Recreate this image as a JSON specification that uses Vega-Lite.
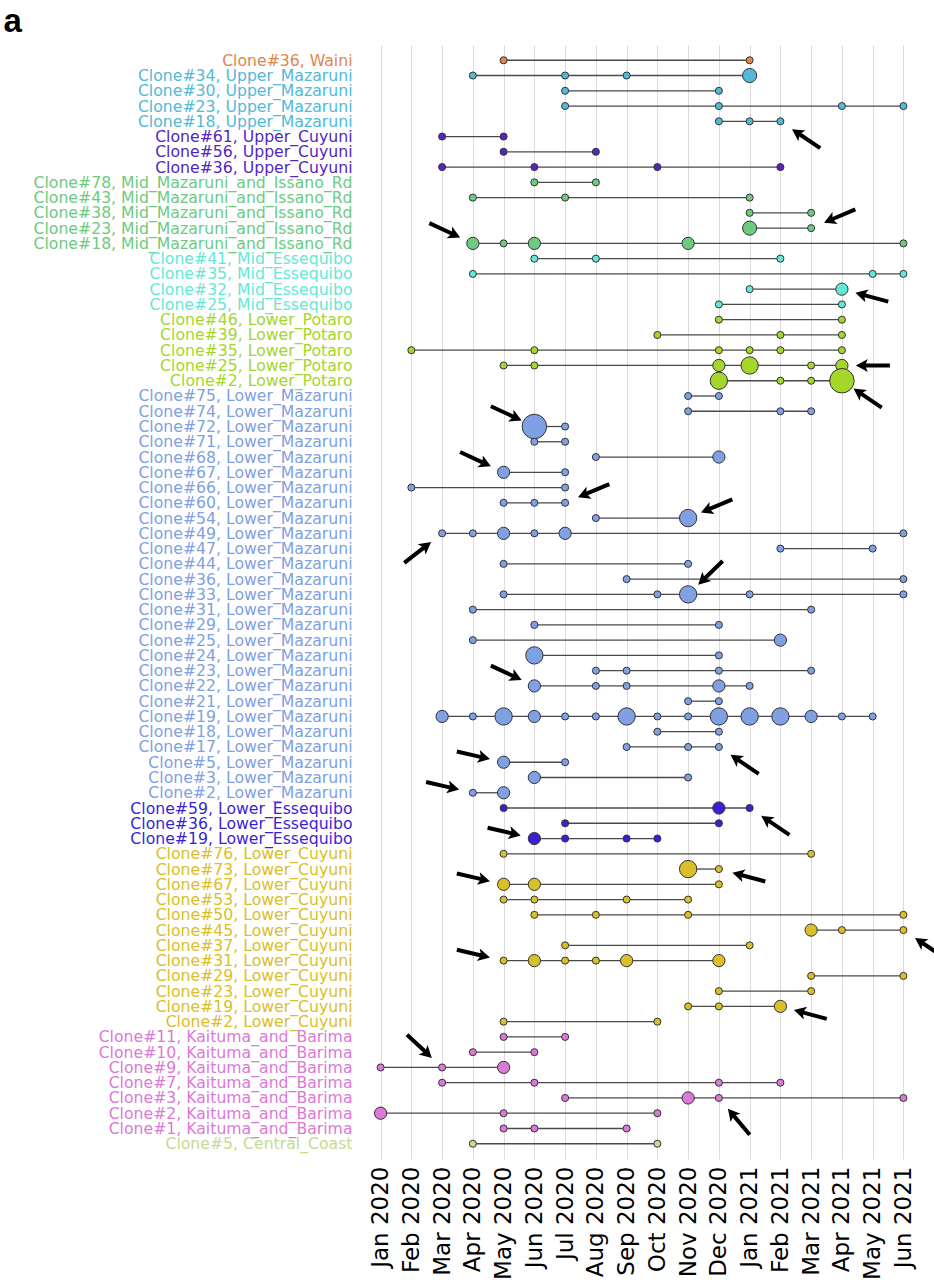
{
  "$schema": "https://vega.github.io/schema/vega-lite/v6.json",
  "autosize": "none",
  "padding": {"left": 356, "top": 45, "right": 6, "bottom": 121},
  "width": 572,
  "height": 1114,
  "config": {"view": {"stroke": null}, "font": "DejaVu Sans"},
  "data": {"values": [
    {"clone": "Clone#36, Waini", "region": "Waini", "month": "May 2020", "n": 1},
    {"clone": "Clone#36, Waini", "region": "Waini", "month": "Jan 2021", "n": 1},
    {"clone": "Clone#34, Upper_Mazaruni", "region": "Upper_Mazaruni", "month": "Apr 2020", "n": 1},
    {"clone": "Clone#34, Upper_Mazaruni", "region": "Upper_Mazaruni", "month": "Jul 2020", "n": 1},
    {"clone": "Clone#34, Upper_Mazaruni", "region": "Upper_Mazaruni", "month": "Sep 2020", "n": 1},
    {"clone": "Clone#34, Upper_Mazaruni", "region": "Upper_Mazaruni", "month": "Jan 2021", "n": 4},
    {"clone": "Clone#30, Upper_Mazaruni", "region": "Upper_Mazaruni", "month": "Jul 2020", "n": 1},
    {"clone": "Clone#30, Upper_Mazaruni", "region": "Upper_Mazaruni", "month": "Dec 2020", "n": 1},
    {"clone": "Clone#23, Upper_Mazaruni", "region": "Upper_Mazaruni", "month": "Jul 2020", "n": 1},
    {"clone": "Clone#23, Upper_Mazaruni", "region": "Upper_Mazaruni", "month": "Dec 2020", "n": 1},
    {"clone": "Clone#23, Upper_Mazaruni", "region": "Upper_Mazaruni", "month": "Apr 2021", "n": 1},
    {"clone": "Clone#23, Upper_Mazaruni", "region": "Upper_Mazaruni", "month": "Jun 2021", "n": 1},
    {"clone": "Clone#18, Upper_Mazaruni", "region": "Upper_Mazaruni", "month": "Dec 2020", "n": 1},
    {"clone": "Clone#18, Upper_Mazaruni", "region": "Upper_Mazaruni", "month": "Jan 2021", "n": 1},
    {"clone": "Clone#18, Upper_Mazaruni", "region": "Upper_Mazaruni", "month": "Feb 2021", "n": 1, "arrow": "lower-right"},
    {"clone": "Clone#61, Upper_Cuyuni", "region": "Upper_Cuyuni", "month": "Mar 2020", "n": 1},
    {"clone": "Clone#61, Upper_Cuyuni", "region": "Upper_Cuyuni", "month": "May 2020", "n": 1},
    {"clone": "Clone#56, Upper_Cuyuni", "region": "Upper_Cuyuni", "month": "May 2020", "n": 1},
    {"clone": "Clone#56, Upper_Cuyuni", "region": "Upper_Cuyuni", "month": "Aug 2020", "n": 1},
    {"clone": "Clone#36, Upper_Cuyuni", "region": "Upper_Cuyuni", "month": "Mar 2020", "n": 1},
    {"clone": "Clone#36, Upper_Cuyuni", "region": "Upper_Cuyuni", "month": "Jun 2020", "n": 1},
    {"clone": "Clone#36, Upper_Cuyuni", "region": "Upper_Cuyuni", "month": "Oct 2020", "n": 1},
    {"clone": "Clone#36, Upper_Cuyuni", "region": "Upper_Cuyuni", "month": "Feb 2021", "n": 1},
    {"clone": "Clone#78, Mid_Mazaruni_and_Issano_Rd", "region": "Mid_Mazaruni_and_Issano_Rd", "month": "Jun 2020", "n": 1},
    {"clone": "Clone#78, Mid_Mazaruni_and_Issano_Rd", "region": "Mid_Mazaruni_and_Issano_Rd", "month": "Aug 2020", "n": 1},
    {"clone": "Clone#43, Mid_Mazaruni_and_Issano_Rd", "region": "Mid_Mazaruni_and_Issano_Rd", "month": "Apr 2020", "n": 1},
    {"clone": "Clone#43, Mid_Mazaruni_and_Issano_Rd", "region": "Mid_Mazaruni_and_Issano_Rd", "month": "Jul 2020", "n": 1},
    {"clone": "Clone#43, Mid_Mazaruni_and_Issano_Rd", "region": "Mid_Mazaruni_and_Issano_Rd", "month": "Jan 2021", "n": 1},
    {"clone": "Clone#38, Mid_Mazaruni_and_Issano_Rd", "region": "Mid_Mazaruni_and_Issano_Rd", "month": "Jan 2021", "n": 1},
    {"clone": "Clone#38, Mid_Mazaruni_and_Issano_Rd", "region": "Mid_Mazaruni_and_Issano_Rd", "month": "Mar 2021", "n": 1},
    {"clone": "Clone#23, Mid_Mazaruni_and_Issano_Rd", "region": "Mid_Mazaruni_and_Issano_Rd", "month": "Jan 2021", "n": 4},
    {"clone": "Clone#23, Mid_Mazaruni_and_Issano_Rd", "region": "Mid_Mazaruni_and_Issano_Rd", "month": "Mar 2021", "n": 1, "arrow": "upper-right"},
    {"clone": "Clone#18, Mid_Mazaruni_and_Issano_Rd", "region": "Mid_Mazaruni_and_Issano_Rd", "month": "Apr 2020", "n": 3, "arrow": "upper-left"},
    {"clone": "Clone#18, Mid_Mazaruni_and_Issano_Rd", "region": "Mid_Mazaruni_and_Issano_Rd", "month": "May 2020", "n": 1},
    {"clone": "Clone#18, Mid_Mazaruni_and_Issano_Rd", "region": "Mid_Mazaruni_and_Issano_Rd", "month": "Jun 2020", "n": 3},
    {"clone": "Clone#18, Mid_Mazaruni_and_Issano_Rd", "region": "Mid_Mazaruni_and_Issano_Rd", "month": "Nov 2020", "n": 3},
    {"clone": "Clone#18, Mid_Mazaruni_and_Issano_Rd", "region": "Mid_Mazaruni_and_Issano_Rd", "month": "Jun 2021", "n": 1},
    {"clone": "Clone#41, Mid_Essequibo", "region": "Mid_Essequibo", "month": "Jun 2020", "n": 1},
    {"clone": "Clone#41, Mid_Essequibo", "region": "Mid_Essequibo", "month": "Aug 2020", "n": 1},
    {"clone": "Clone#41, Mid_Essequibo", "region": "Mid_Essequibo", "month": "Feb 2021", "n": 1},
    {"clone": "Clone#35, Mid_Essequibo", "region": "Mid_Essequibo", "month": "Apr 2020", "n": 1},
    {"clone": "Clone#35, Mid_Essequibo", "region": "Mid_Essequibo", "month": "May 2021", "n": 1},
    {"clone": "Clone#35, Mid_Essequibo", "region": "Mid_Essequibo", "month": "Jun 2021", "n": 1},
    {"clone": "Clone#32, Mid_Essequibo", "region": "Mid_Essequibo", "month": "Jan 2021", "n": 1},
    {"clone": "Clone#32, Mid_Essequibo", "region": "Mid_Essequibo", "month": "Apr 2021", "n": 3, "arrow": "right-low"},
    {"clone": "Clone#25, Mid_Essequibo", "region": "Mid_Essequibo", "month": "Dec 2020", "n": 1},
    {"clone": "Clone#25, Mid_Essequibo", "region": "Mid_Essequibo", "month": "Apr 2021", "n": 1},
    {"clone": "Clone#46, Lower_Potaro", "region": "Lower_Potaro", "month": "Dec 2020", "n": 1},
    {"clone": "Clone#46, Lower_Potaro", "region": "Lower_Potaro", "month": "Apr 2021", "n": 1},
    {"clone": "Clone#39, Lower_Potaro", "region": "Lower_Potaro", "month": "Oct 2020", "n": 1},
    {"clone": "Clone#39, Lower_Potaro", "region": "Lower_Potaro", "month": "Feb 2021", "n": 1},
    {"clone": "Clone#39, Lower_Potaro", "region": "Lower_Potaro", "month": "Apr 2021", "n": 1},
    {"clone": "Clone#35, Lower_Potaro", "region": "Lower_Potaro", "month": "Feb 2020", "n": 1},
    {"clone": "Clone#35, Lower_Potaro", "region": "Lower_Potaro", "month": "Jun 2020", "n": 1},
    {"clone": "Clone#35, Lower_Potaro", "region": "Lower_Potaro", "month": "Dec 2020", "n": 1},
    {"clone": "Clone#35, Lower_Potaro", "region": "Lower_Potaro", "month": "Jan 2021", "n": 1},
    {"clone": "Clone#35, Lower_Potaro", "region": "Lower_Potaro", "month": "Feb 2021", "n": 1},
    {"clone": "Clone#35, Lower_Potaro", "region": "Lower_Potaro", "month": "Apr 2021", "n": 1},
    {"clone": "Clone#25, Lower_Potaro", "region": "Lower_Potaro", "month": "May 2020", "n": 1},
    {"clone": "Clone#25, Lower_Potaro", "region": "Lower_Potaro", "month": "Jun 2020", "n": 1},
    {"clone": "Clone#25, Lower_Potaro", "region": "Lower_Potaro", "month": "Dec 2020", "n": 3},
    {"clone": "Clone#25, Lower_Potaro", "region": "Lower_Potaro", "month": "Jan 2021", "n": 6},
    {"clone": "Clone#25, Lower_Potaro", "region": "Lower_Potaro", "month": "Mar 2021", "n": 1},
    {"clone": "Clone#25, Lower_Potaro", "region": "Lower_Potaro", "month": "Apr 2021", "n": 3, "arrow": "right"},
    {"clone": "Clone#2, Lower_Potaro", "region": "Lower_Potaro", "month": "Dec 2020", "n": 6},
    {"clone": "Clone#2, Lower_Potaro", "region": "Lower_Potaro", "month": "Feb 2021", "n": 1},
    {"clone": "Clone#2, Lower_Potaro", "region": "Lower_Potaro", "month": "Mar 2021", "n": 1},
    {"clone": "Clone#2, Lower_Potaro", "region": "Lower_Potaro", "month": "Apr 2021", "n": 12, "arrow": "lower-right"},
    {"clone": "Clone#75, Lower_Mazaruni", "region": "Lower_Mazaruni", "month": "Nov 2020", "n": 1},
    {"clone": "Clone#75, Lower_Mazaruni", "region": "Lower_Mazaruni", "month": "Dec 2020", "n": 1},
    {"clone": "Clone#74, Lower_Mazaruni", "region": "Lower_Mazaruni", "month": "Nov 2020", "n": 1},
    {"clone": "Clone#74, Lower_Mazaruni", "region": "Lower_Mazaruni", "month": "Feb 2021", "n": 1},
    {"clone": "Clone#74, Lower_Mazaruni", "region": "Lower_Mazaruni", "month": "Mar 2021", "n": 1},
    {"clone": "Clone#72, Lower_Mazaruni", "region": "Lower_Mazaruni", "month": "Jun 2020", "n": 12, "arrow": "upper-left"},
    {"clone": "Clone#72, Lower_Mazaruni", "region": "Lower_Mazaruni", "month": "Jul 2020", "n": 1},
    {"clone": "Clone#71, Lower_Mazaruni", "region": "Lower_Mazaruni", "month": "Jun 2020", "n": 1},
    {"clone": "Clone#71, Lower_Mazaruni", "region": "Lower_Mazaruni", "month": "Jul 2020", "n": 1},
    {"clone": "Clone#68, Lower_Mazaruni", "region": "Lower_Mazaruni", "month": "Aug 2020", "n": 1},
    {"clone": "Clone#68, Lower_Mazaruni", "region": "Lower_Mazaruni", "month": "Dec 2020", "n": 3},
    {"clone": "Clone#67, Lower_Mazaruni", "region": "Lower_Mazaruni", "month": "May 2020", "n": 3, "arrow": "upper-left"},
    {"clone": "Clone#67, Lower_Mazaruni", "region": "Lower_Mazaruni", "month": "Jul 2020", "n": 1},
    {"clone": "Clone#66, Lower_Mazaruni", "region": "Lower_Mazaruni", "month": "Feb 2020", "n": 1},
    {"clone": "Clone#66, Lower_Mazaruni", "region": "Lower_Mazaruni", "month": "Jul 2020", "n": 1},
    {"clone": "Clone#60, Lower_Mazaruni", "region": "Lower_Mazaruni", "month": "May 2020", "n": 1},
    {"clone": "Clone#60, Lower_Mazaruni", "region": "Lower_Mazaruni", "month": "Jun 2020", "n": 1},
    {"clone": "Clone#60, Lower_Mazaruni", "region": "Lower_Mazaruni", "month": "Jul 2020", "n": 1, "arrow": "upper-right"},
    {"clone": "Clone#54, Lower_Mazaruni", "region": "Lower_Mazaruni", "month": "Aug 2020", "n": 1},
    {"clone": "Clone#54, Lower_Mazaruni", "region": "Lower_Mazaruni", "month": "Nov 2020", "n": 6, "arrow": "upper-right"},
    {"clone": "Clone#49, Lower_Mazaruni", "region": "Lower_Mazaruni", "month": "Mar 2020", "n": 1, "arrow": "lower-left"},
    {"clone": "Clone#49, Lower_Mazaruni", "region": "Lower_Mazaruni", "month": "Apr 2020", "n": 1},
    {"clone": "Clone#49, Lower_Mazaruni", "region": "Lower_Mazaruni", "month": "May 2020", "n": 3},
    {"clone": "Clone#49, Lower_Mazaruni", "region": "Lower_Mazaruni", "month": "Jun 2020", "n": 1},
    {"clone": "Clone#49, Lower_Mazaruni", "region": "Lower_Mazaruni", "month": "Jul 2020", "n": 3},
    {"clone": "Clone#49, Lower_Mazaruni", "region": "Lower_Mazaruni", "month": "Jun 2021", "n": 1},
    {"clone": "Clone#47, Lower_Mazaruni", "region": "Lower_Mazaruni", "month": "Feb 2021", "n": 1},
    {"clone": "Clone#47, Lower_Mazaruni", "region": "Lower_Mazaruni", "month": "May 2021", "n": 1},
    {"clone": "Clone#44, Lower_Mazaruni", "region": "Lower_Mazaruni", "month": "May 2020", "n": 1},
    {"clone": "Clone#44, Lower_Mazaruni", "region": "Lower_Mazaruni", "month": "Nov 2020", "n": 1},
    {"clone": "Clone#36, Lower_Mazaruni", "region": "Lower_Mazaruni", "month": "Sep 2020", "n": 1},
    {"clone": "Clone#36, Lower_Mazaruni", "region": "Lower_Mazaruni", "month": "Jun 2021", "n": 1},
    {"clone": "Clone#33, Lower_Mazaruni", "region": "Lower_Mazaruni", "month": "May 2020", "n": 1},
    {"clone": "Clone#33, Lower_Mazaruni", "region": "Lower_Mazaruni", "month": "Oct 2020", "n": 1},
    {"clone": "Clone#33, Lower_Mazaruni", "region": "Lower_Mazaruni", "month": "Nov 2020", "n": 6, "arrow": "top-right"},
    {"clone": "Clone#33, Lower_Mazaruni", "region": "Lower_Mazaruni", "month": "Jan 2021", "n": 1},
    {"clone": "Clone#33, Lower_Mazaruni", "region": "Lower_Mazaruni", "month": "Jun 2021", "n": 1},
    {"clone": "Clone#31, Lower_Mazaruni", "region": "Lower_Mazaruni", "month": "Apr 2020", "n": 1},
    {"clone": "Clone#31, Lower_Mazaruni", "region": "Lower_Mazaruni", "month": "Mar 2021", "n": 1},
    {"clone": "Clone#29, Lower_Mazaruni", "region": "Lower_Mazaruni", "month": "Jun 2020", "n": 1},
    {"clone": "Clone#29, Lower_Mazaruni", "region": "Lower_Mazaruni", "month": "Dec 2020", "n": 1},
    {"clone": "Clone#25, Lower_Mazaruni", "region": "Lower_Mazaruni", "month": "Apr 2020", "n": 1},
    {"clone": "Clone#25, Lower_Mazaruni", "region": "Lower_Mazaruni", "month": "Feb 2021", "n": 3},
    {"clone": "Clone#24, Lower_Mazaruni", "region": "Lower_Mazaruni", "month": "Jun 2020", "n": 6},
    {"clone": "Clone#24, Lower_Mazaruni", "region": "Lower_Mazaruni", "month": "Dec 2020", "n": 1},
    {"clone": "Clone#23, Lower_Mazaruni", "region": "Lower_Mazaruni", "month": "Aug 2020", "n": 1},
    {"clone": "Clone#23, Lower_Mazaruni", "region": "Lower_Mazaruni", "month": "Sep 2020", "n": 1},
    {"clone": "Clone#23, Lower_Mazaruni", "region": "Lower_Mazaruni", "month": "Dec 2020", "n": 1},
    {"clone": "Clone#23, Lower_Mazaruni", "region": "Lower_Mazaruni", "month": "Mar 2021", "n": 1},
    {"clone": "Clone#22, Lower_Mazaruni", "region": "Lower_Mazaruni", "month": "Jun 2020", "n": 3, "arrow": "upper-left"},
    {"clone": "Clone#22, Lower_Mazaruni", "region": "Lower_Mazaruni", "month": "Aug 2020", "n": 1},
    {"clone": "Clone#22, Lower_Mazaruni", "region": "Lower_Mazaruni", "month": "Sep 2020", "n": 1},
    {"clone": "Clone#22, Lower_Mazaruni", "region": "Lower_Mazaruni", "month": "Dec 2020", "n": 3},
    {"clone": "Clone#22, Lower_Mazaruni", "region": "Lower_Mazaruni", "month": "Jan 2021", "n": 1},
    {"clone": "Clone#21, Lower_Mazaruni", "region": "Lower_Mazaruni", "month": "Nov 2020", "n": 1},
    {"clone": "Clone#21, Lower_Mazaruni", "region": "Lower_Mazaruni", "month": "Dec 2020", "n": 1},
    {"clone": "Clone#19, Lower_Mazaruni", "region": "Lower_Mazaruni", "month": "Mar 2020", "n": 3},
    {"clone": "Clone#19, Lower_Mazaruni", "region": "Lower_Mazaruni", "month": "Apr 2020", "n": 1},
    {"clone": "Clone#19, Lower_Mazaruni", "region": "Lower_Mazaruni", "month": "May 2020", "n": 6},
    {"clone": "Clone#19, Lower_Mazaruni", "region": "Lower_Mazaruni", "month": "Jun 2020", "n": 3},
    {"clone": "Clone#19, Lower_Mazaruni", "region": "Lower_Mazaruni", "month": "Jul 2020", "n": 1},
    {"clone": "Clone#19, Lower_Mazaruni", "region": "Lower_Mazaruni", "month": "Aug 2020", "n": 1},
    {"clone": "Clone#19, Lower_Mazaruni", "region": "Lower_Mazaruni", "month": "Sep 2020", "n": 6},
    {"clone": "Clone#19, Lower_Mazaruni", "region": "Lower_Mazaruni", "month": "Oct 2020", "n": 1},
    {"clone": "Clone#19, Lower_Mazaruni", "region": "Lower_Mazaruni", "month": "Nov 2020", "n": 1},
    {"clone": "Clone#19, Lower_Mazaruni", "region": "Lower_Mazaruni", "month": "Dec 2020", "n": 6},
    {"clone": "Clone#19, Lower_Mazaruni", "region": "Lower_Mazaruni", "month": "Jan 2021", "n": 6},
    {"clone": "Clone#19, Lower_Mazaruni", "region": "Lower_Mazaruni", "month": "Feb 2021", "n": 6},
    {"clone": "Clone#19, Lower_Mazaruni", "region": "Lower_Mazaruni", "month": "Mar 2021", "n": 3},
    {"clone": "Clone#19, Lower_Mazaruni", "region": "Lower_Mazaruni", "month": "Apr 2021", "n": 1},
    {"clone": "Clone#19, Lower_Mazaruni", "region": "Lower_Mazaruni", "month": "May 2021", "n": 1},
    {"clone": "Clone#18, Lower_Mazaruni", "region": "Lower_Mazaruni", "month": "Oct 2020", "n": 1},
    {"clone": "Clone#18, Lower_Mazaruni", "region": "Lower_Mazaruni", "month": "Dec 2020", "n": 1},
    {"clone": "Clone#17, Lower_Mazaruni", "region": "Lower_Mazaruni", "month": "Sep 2020", "n": 1},
    {"clone": "Clone#17, Lower_Mazaruni", "region": "Lower_Mazaruni", "month": "Nov 2020", "n": 1},
    {"clone": "Clone#17, Lower_Mazaruni", "region": "Lower_Mazaruni", "month": "Dec 2020", "n": 1, "arrow": "lower-right"},
    {"clone": "Clone#5, Lower_Mazaruni", "region": "Lower_Mazaruni", "month": "May 2020", "n": 3, "arrow": "left"},
    {"clone": "Clone#5, Lower_Mazaruni", "region": "Lower_Mazaruni", "month": "Jul 2020", "n": 1},
    {"clone": "Clone#3, Lower_Mazaruni", "region": "Lower_Mazaruni", "month": "Jun 2020", "n": 3},
    {"clone": "Clone#3, Lower_Mazaruni", "region": "Lower_Mazaruni", "month": "Nov 2020", "n": 1},
    {"clone": "Clone#2, Lower_Mazaruni", "region": "Lower_Mazaruni", "month": "Apr 2020", "n": 1, "arrow": "left"},
    {"clone": "Clone#2, Lower_Mazaruni", "region": "Lower_Mazaruni", "month": "May 2020", "n": 3},
    {"clone": "Clone#59, Lower_Essequibo", "region": "Lower_Essequibo", "month": "May 2020", "n": 1},
    {"clone": "Clone#59, Lower_Essequibo", "region": "Lower_Essequibo", "month": "Dec 2020", "n": 3},
    {"clone": "Clone#59, Lower_Essequibo", "region": "Lower_Essequibo", "month": "Jan 2021", "n": 1, "arrow": "lower-right"},
    {"clone": "Clone#36, Lower_Essequibo", "region": "Lower_Essequibo", "month": "Jul 2020", "n": 1},
    {"clone": "Clone#36, Lower_Essequibo", "region": "Lower_Essequibo", "month": "Dec 2020", "n": 1},
    {"clone": "Clone#19, Lower_Essequibo", "region": "Lower_Essequibo", "month": "Jun 2020", "n": 3, "arrow": "left"},
    {"clone": "Clone#19, Lower_Essequibo", "region": "Lower_Essequibo", "month": "Jul 2020", "n": 1},
    {"clone": "Clone#19, Lower_Essequibo", "region": "Lower_Essequibo", "month": "Sep 2020", "n": 1},
    {"clone": "Clone#19, Lower_Essequibo", "region": "Lower_Essequibo", "month": "Oct 2020", "n": 1},
    {"clone": "Clone#76, Lower_Cuyuni", "region": "Lower_Cuyuni", "month": "May 2020", "n": 1},
    {"clone": "Clone#76, Lower_Cuyuni", "region": "Lower_Cuyuni", "month": "Mar 2021", "n": 1},
    {"clone": "Clone#73, Lower_Cuyuni", "region": "Lower_Cuyuni", "month": "Nov 2020", "n": 6},
    {"clone": "Clone#73, Lower_Cuyuni", "region": "Lower_Cuyuni", "month": "Dec 2020", "n": 1, "arrow": "right-low"},
    {"clone": "Clone#67, Lower_Cuyuni", "region": "Lower_Cuyuni", "month": "May 2020", "n": 3, "arrow": "left"},
    {"clone": "Clone#67, Lower_Cuyuni", "region": "Lower_Cuyuni", "month": "Jun 2020", "n": 3},
    {"clone": "Clone#67, Lower_Cuyuni", "region": "Lower_Cuyuni", "month": "Dec 2020", "n": 1},
    {"clone": "Clone#53, Lower_Cuyuni", "region": "Lower_Cuyuni", "month": "May 2020", "n": 1},
    {"clone": "Clone#53, Lower_Cuyuni", "region": "Lower_Cuyuni", "month": "Jun 2020", "n": 1},
    {"clone": "Clone#53, Lower_Cuyuni", "region": "Lower_Cuyuni", "month": "Sep 2020", "n": 1},
    {"clone": "Clone#53, Lower_Cuyuni", "region": "Lower_Cuyuni", "month": "Nov 2020", "n": 1},
    {"clone": "Clone#50, Lower_Cuyuni", "region": "Lower_Cuyuni", "month": "Jun 2020", "n": 1},
    {"clone": "Clone#50, Lower_Cuyuni", "region": "Lower_Cuyuni", "month": "Aug 2020", "n": 1},
    {"clone": "Clone#50, Lower_Cuyuni", "region": "Lower_Cuyuni", "month": "Nov 2020", "n": 1},
    {"clone": "Clone#50, Lower_Cuyuni", "region": "Lower_Cuyuni", "month": "Jun 2021", "n": 1},
    {"clone": "Clone#45, Lower_Cuyuni", "region": "Lower_Cuyuni", "month": "Mar 2021", "n": 3},
    {"clone": "Clone#45, Lower_Cuyuni", "region": "Lower_Cuyuni", "month": "Apr 2021", "n": 1},
    {"clone": "Clone#45, Lower_Cuyuni", "region": "Lower_Cuyuni", "month": "Jun 2021", "n": 1, "arrow": "lower-right"},
    {"clone": "Clone#37, Lower_Cuyuni", "region": "Lower_Cuyuni", "month": "Jul 2020", "n": 1},
    {"clone": "Clone#37, Lower_Cuyuni", "region": "Lower_Cuyuni", "month": "Jan 2021", "n": 1},
    {"clone": "Clone#31, Lower_Cuyuni", "region": "Lower_Cuyuni", "month": "May 2020", "n": 1, "arrow": "left"},
    {"clone": "Clone#31, Lower_Cuyuni", "region": "Lower_Cuyuni", "month": "Jun 2020", "n": 3},
    {"clone": "Clone#31, Lower_Cuyuni", "region": "Lower_Cuyuni", "month": "Jul 2020", "n": 1},
    {"clone": "Clone#31, Lower_Cuyuni", "region": "Lower_Cuyuni", "month": "Aug 2020", "n": 1},
    {"clone": "Clone#31, Lower_Cuyuni", "region": "Lower_Cuyuni", "month": "Sep 2020", "n": 3},
    {"clone": "Clone#31, Lower_Cuyuni", "region": "Lower_Cuyuni", "month": "Dec 2020", "n": 3},
    {"clone": "Clone#29, Lower_Cuyuni", "region": "Lower_Cuyuni", "month": "Mar 2021", "n": 1},
    {"clone": "Clone#29, Lower_Cuyuni", "region": "Lower_Cuyuni", "month": "Jun 2021", "n": 1},
    {"clone": "Clone#23, Lower_Cuyuni", "region": "Lower_Cuyuni", "month": "Dec 2020", "n": 1},
    {"clone": "Clone#23, Lower_Cuyuni", "region": "Lower_Cuyuni", "month": "Mar 2021", "n": 1},
    {"clone": "Clone#19, Lower_Cuyuni", "region": "Lower_Cuyuni", "month": "Nov 2020", "n": 1},
    {"clone": "Clone#19, Lower_Cuyuni", "region": "Lower_Cuyuni", "month": "Dec 2020", "n": 1},
    {"clone": "Clone#19, Lower_Cuyuni", "region": "Lower_Cuyuni", "month": "Feb 2021", "n": 3, "arrow": "right-low"},
    {"clone": "Clone#2, Lower_Cuyuni", "region": "Lower_Cuyuni", "month": "May 2020", "n": 1},
    {"clone": "Clone#2, Lower_Cuyuni", "region": "Lower_Cuyuni", "month": "Oct 2020", "n": 1},
    {"clone": "Clone#11, Kaituma_and_Barima", "region": "Kaituma_and_Barima", "month": "May 2020", "n": 1},
    {"clone": "Clone#11, Kaituma_and_Barima", "region": "Kaituma_and_Barima", "month": "Jul 2020", "n": 1},
    {"clone": "Clone#10, Kaituma_and_Barima", "region": "Kaituma_and_Barima", "month": "Apr 2020", "n": 1},
    {"clone": "Clone#10, Kaituma_and_Barima", "region": "Kaituma_and_Barima", "month": "Jun 2020", "n": 1},
    {"clone": "Clone#9, Kaituma_and_Barima", "region": "Kaituma_and_Barima", "month": "Jan 2020", "n": 1},
    {"clone": "Clone#9, Kaituma_and_Barima", "region": "Kaituma_and_Barima", "month": "Mar 2020", "n": 1, "arrow": "top-left"},
    {"clone": "Clone#9, Kaituma_and_Barima", "region": "Kaituma_and_Barima", "month": "May 2020", "n": 3},
    {"clone": "Clone#7, Kaituma_and_Barima", "region": "Kaituma_and_Barima", "month": "Mar 2020", "n": 1},
    {"clone": "Clone#7, Kaituma_and_Barima", "region": "Kaituma_and_Barima", "month": "Jun 2020", "n": 1},
    {"clone": "Clone#7, Kaituma_and_Barima", "region": "Kaituma_and_Barima", "month": "Dec 2020", "n": 1},
    {"clone": "Clone#7, Kaituma_and_Barima", "region": "Kaituma_and_Barima", "month": "Feb 2021", "n": 1},
    {"clone": "Clone#3, Kaituma_and_Barima", "region": "Kaituma_and_Barima", "month": "Jul 2020", "n": 1},
    {"clone": "Clone#3, Kaituma_and_Barima", "region": "Kaituma_and_Barima", "month": "Nov 2020", "n": 3},
    {"clone": "Clone#3, Kaituma_and_Barima", "region": "Kaituma_and_Barima", "month": "Dec 2020", "n": 1, "arrow": "bottom-right"},
    {"clone": "Clone#3, Kaituma_and_Barima", "region": "Kaituma_and_Barima", "month": "Jun 2021", "n": 1},
    {"clone": "Clone#2, Kaituma_and_Barima", "region": "Kaituma_and_Barima", "month": "Jan 2020", "n": 3},
    {"clone": "Clone#2, Kaituma_and_Barima", "region": "Kaituma_and_Barima", "month": "May 2020", "n": 1},
    {"clone": "Clone#2, Kaituma_and_Barima", "region": "Kaituma_and_Barima", "month": "Oct 2020", "n": 1},
    {"clone": "Clone#1, Kaituma_and_Barima", "region": "Kaituma_and_Barima", "month": "May 2020", "n": 1},
    {"clone": "Clone#1, Kaituma_and_Barima", "region": "Kaituma_and_Barima", "month": "Jun 2020", "n": 1},
    {"clone": "Clone#1, Kaituma_and_Barima", "region": "Kaituma_and_Barima", "month": "Sep 2020", "n": 1},
    {"clone": "Clone#5, Central_Coast", "region": "Central_Coast", "month": "Apr 2020", "n": 1},
    {"clone": "Clone#5, Central_Coast", "region": "Central_Coast", "month": "Oct 2020", "n": 1}
  ]},
  "encoding": {
    "x": {
      "field": "month", "type": "nominal",
      "scale": {"type": "point", "padding": 0.8, "domain": ["Jan 2020", "Feb 2020", "Mar 2020", "Apr 2020", "May 2020", "Jun 2020", "Jul 2020", "Aug 2020", "Sep 2020", "Oct 2020", "Nov 2020", "Dec 2020", "Jan 2021", "Feb 2021", "Mar 2021", "Apr 2021", "May 2021", "Jun 2021"]},
      "axis": {"title": null, "labelAngle": -90, "labelFont": "DejaVu Sans", "labelFontSize": 23, "labelColor": "#000000", "labelPadding": 7, "ticks": false, "tickSize": 0, "domain": false, "grid": true, "gridColor": "#DCDCDC", "gridWidth": 1, "labelOverlap": false}
    },
    "y": {
      "field": "clone", "type": "nominal", "sort": null,
      "scale": {"type": "point", "padding": 1.1},
      "axis": {"title": "a", "titleAngle": 0, "titleX": -353, "titleY": -14, "titleAlign": "left", "titleBaseline": "alphabetic", "titleFont": "Liberation Sans", "titleFontSize": 33, "titleFontWeight": "bold", "titleColor": "#000000",
        "labelFont": "DejaVu Sans", "labelFontSize": 15.7, "labelPadding": 4, "ticks": false, "tickSize": 0, "domain": false, "grid": false, "labelLimit": 400, "labelOverlap": false,
        "labelColor": {"expr": "indexof(datum.label,'Waini')>=0?'#E0864A':indexof(datum.label,'Upper_Mazaruni')>=0?'#52B9D8':indexof(datum.label,'Upper_Cuyuni')>=0?'#5326C0':indexof(datum.label,'Mid_Mazaruni')>=0?'#6CCB7E':indexof(datum.label,'Mid_Essequibo')>=0?'#64E8D6':indexof(datum.label,'Lower_Potaro')>=0?'#A5D62C':indexof(datum.label,'Lower_Mazaruni')>=0?'#7FA0E2':indexof(datum.label,'Lower_Essequibo')>=0?'#3A1FD6':indexof(datum.label,'Lower_Cuyuni')>=0?'#D9C02A':indexof(datum.label,'Kaituma')>=0?'#DB79D6':'#C5DB8E'"}}
    }
  },
  "layer": [
    {
      "mark": {"type": "line", "color": "#4a4a4a", "strokeWidth": 1.3},
      "encoding": {"detail": {"field": "clone"}}
    },
    {
      "mark": {"type": "point", "shape": "circle", "filled": true, "stroke": "#333333", "strokeWidth": 1, "opacity": 1},
      "encoding": {
        "color": {"field": "region", "type": "nominal", "legend": null,
          "scale": {"domain": ["Waini", "Upper_Mazaruni", "Upper_Cuyuni", "Mid_Mazaruni_and_Issano_Rd", "Mid_Essequibo", "Lower_Potaro", "Lower_Mazaruni", "Lower_Essequibo", "Lower_Cuyuni", "Kaituma_and_Barima", "Central_Coast"],
                    "range": ["#E0864A", "#52B9D8", "#5326C0", "#6CCB7E", "#64E8D6", "#A5D62C", "#7FA0E2", "#3A1FD6", "#D9C02A", "#DB79D6", "#C5DB8E"]}},
        "size": {"field": "n", "type": "quantitative", "legend": null, "scale": {"domain": [0, 12], "range": [0, 600]}}
      }
    },
    {
      "transform": [{"filter": "isValid(datum.arrow)"}],
      "mark": {"type": "point", "shape": "M -0.28 0 L -0.52 -0.13 L -0.48 -0.04 L -0.96 -0.04 L -0.96 0.04 L -0.48 0.04 L -0.52 0.13 Z", "size": 10000, "filled": true, "color": "#000000", "opacity": 1, "strokeWidth": 0},
      "encoding": {
        "angle": {"condition": [
          {"test": "datum.arrow === 'left'", "value": 13},
          {"test": "datum.arrow === 'upper-left'", "value": 25},
          {"test": "datum.arrow === 'top-left'", "value": 43},
          {"test": "datum.arrow === 'lower-left'", "value": 322},
          {"test": "datum.arrow === 'top-right'", "value": 136},
          {"test": "datum.arrow === 'upper-right'", "value": 157},
          {"test": "datum.arrow === 'right'", "value": 180},
          {"test": "datum.arrow === 'right-low'", "value": 195},
          {"test": "datum.arrow === 'bottom-right'", "value": 230}
        ], "value": 214}
      }
    }
  ]
}
